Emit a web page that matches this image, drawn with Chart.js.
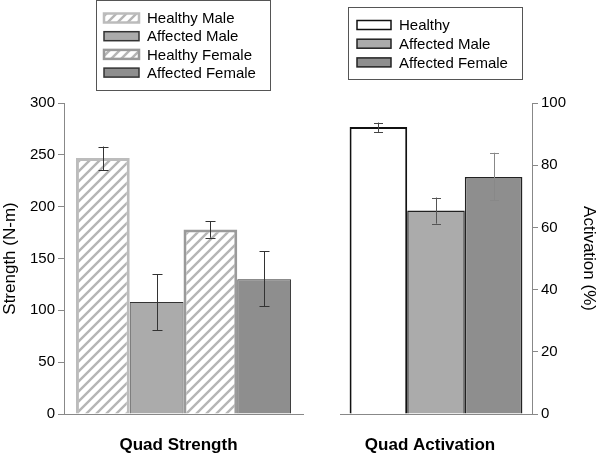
<!DOCTYPE html>
<html><head><meta charset="utf-8">
<script src="https://cdn.jsdelivr.net/npm/chart.js@4"></script>
<style>
body{margin:0;background:#fff;width:600px;height:453px;overflow:hidden;position:relative}
#c1{position:absolute;left:0;top:0}
#c2{position:absolute;left:320px;top:0}
</style>
</head><body>
<canvas id="c1" width="320" height="453"></canvas>
<canvas id="c2" width="280" height="453"></canvas>
<script>
// ---- data ----
const strengthCategory = ['Quad Strength'];
const strengthSeries = ['Healthy Male', 'Affected Male', 'Healthy Female', 'Affected Female'];
const strengthValues = [247, 108, 178, 130];
const strengthErrLow = [235, 81, 170, 104];
const strengthErrHigh = [258, 135, 186, 157];
const strengthTicks = [0, 50, 100, 150, 200, 250, 300];

const activationCategory = ['Quad Activation'];
const activationSeries = ['Healthy', 'Affected Male', 'Affected Female'];
const activationValues = [92.3, 65.4, 76.2];
const activationErrLow = [90.7, 61.2, 68.7];
const activationErrHigh = [93.7, 69.6, 84.0];
const activationTicks = [0, 20, 40, 60, 80, 100];

// ---- styles ----
const FONT = 'Liberation Sans, Arial, sans-serif';
function hatch(color) {
  const s = 10, c = document.createElement('canvas');
  c.width = s; c.height = s;
  const g = c.getContext('2d');
  g.fillStyle = '#fff'; g.fillRect(0, 0, s, s);
  g.strokeStyle = color; g.lineWidth = 2.4;
  g.beginPath();
  g.moveTo(-2, s + 2); g.lineTo(s + 2, -2);
  g.moveTo(-2, 2); g.lineTo(2, -2);
  g.moveTo(s - 2, s + 2); g.lineTo(s + 2, s - 2);
  g.stroke();
  return g.createPattern(c, 'repeat');
}
const hatchPat = hatch('#b5b5b5');
const strengthStyles = [
  {bg: hatchPat, border: '#bcbcbc', bw: 3, err: '#333'},
  {bg: '#ababab', border: '#333', bw: 1, err: '#333'},
  {bg: hatchPat, border: '#9a9a9a', bw: 3, err: '#333'},
  {bg: '#8e8e8e', border: '#333', bw: 1, err: '#333'}
];
const activationStyles = [
  {bg: '#ffffff', border: '#111', bw: 2, err: '#444'},
  {bg: '#ababab', border: '#222', bw: 1.5, err: '#555'},
  {bg: '#8e8e8e', border: '#222', bw: 1.5, err: '#888'}
];

// ---- plugins ----
const errorBars = {
  id: 'errorBars',
  afterDatasetsDraw(chart, args, opts) {
    const ctx = chart.ctx, y = chart.scales.y;
    chart.data.datasets.forEach((ds, i) => {
      const bar = chart.getDatasetMeta(i).data[0];
      const lo = y.getPixelForValue(ds.errLow), hi = y.getPixelForValue(ds.errHigh);
      const x = Math.round(bar.x) + 0.5, c = opts.cap;
      ctx.save();
      ctx.strokeStyle = ds.errColor; ctx.lineWidth = 1;
      ctx.beginPath();
      ctx.moveTo(x, lo); ctx.lineTo(x, hi);
      ctx.moveTo(x - c, Math.round(lo) + 0.5); ctx.lineTo(x + c, Math.round(lo) + 0.5);
      ctx.moveTo(x - c, Math.round(hi) + 0.5); ctx.lineTo(x + c, Math.round(hi) + 0.5);
      ctx.stroke();
      ctx.restore();
    });
  }
};
const boxLegend = {
  id: 'boxLegend',
  afterDraw(chart, args, o) {
    const ctx = chart.ctx;
    ctx.save();
    ctx.strokeStyle = '#555'; ctx.lineWidth = 1;
    ctx.strokeRect(o.x + 0.5, o.y + 0.5, o.w, o.h);
    ctx.font = '15px ' + FONT; ctx.fillStyle = '#000'; ctx.textBaseline = 'middle';
    chart.data.datasets.forEach((ds, i) => {
      const cy = o.rowY + i * o.rowH;
      ctx.fillStyle = ds.backgroundColor;
      ctx.fillRect(o.sx, cy - 4.5, o.sw, 9);
      ctx.strokeStyle = ds.borderColor; ctx.lineWidth = ds.borderWidth > 2 ? 2.5 : 1.5;
      ctx.strokeRect(o.sx, cy - 4.5, o.sw, 9);
      ctx.fillStyle = '#000';
      ctx.fillText(ds.label, o.tx, cy + 1);
    });
    ctx.restore();
  }
};

function makeDatasets(series, values, lo, hi, styles) {
  return series.map((name, i) => ({
    label: name, data: [values[i]], errLow: lo[i], errHigh: hi[i],
    backgroundColor: styles[i].bg, borderColor: styles[i].border,
    borderWidth: styles[i].bw, errColor: styles[i].err,
    categoryPercentage: 0.9, barPercentage: 1
  }));
}

function axisCommon(ticksArr) {
  return {
    min: ticksArr[0], max: ticksArr[ticksArr.length - 1],
    afterBuildTicks: s => { s.ticks = ticksArr.map(v => ({value: v})); },
    grid: {display: true, drawOnChartArea: false, drawTicks: true, tickLength: 6, color: '#888'},
    border: {display: true, color: '#888', width: 1},
    ticks: {color: '#000', font: {family: FONT, size: 15}, padding: 3}
  };
}

// ---- left chart ----
const yL = axisCommon(strengthTicks);
yL.position = 'left';
yL.title = {display: true, text: 'Strength (N-m)', color: '#000', font: {family: FONT, size: 17}, padding: 0};
yL.afterFit = s => { s.width = 64; };
new Chart(document.getElementById('c1'), {
  type: 'bar',
  data: {labels: strengthCategory, datasets: makeDatasets(strengthSeries, strengthValues, strengthErrLow, strengthErrHigh, strengthStyles)},
  options: {
    responsive: false, animation: false,
    layout: {padding: {left: 0, right: 17, top: 103, bottom: 0}},
    plugins: {legend: {display: false}, tooltip: {enabled: false},
      errorBars: {cap: 5},
      boxLegend: {x: 96, y: 0, w: 174, h: 90, rowY: 18, rowH: 18.2, sx: 104, sw: 35, tx: 147}},
    scales: {
      x: {grid: {display: false}, border: {display: true, color: '#888'},
          ticks: {color: '#000', font: {family: FONT, size: 17, weight: 'bold'}, padding: 13, labelOffset: -5},
          afterFit: s => { s.height = 39; }},
      y: yL
    }
  },
  plugins: [errorBars, boxLegend]
});

// ---- right chart ----
const yR = axisCommon(activationTicks);
yR.position = 'right';
yR.title = {display: true, text: 'Activation (%)', color: '#000', font: {family: FONT, size: 17}, padding: 1};
yR.afterFit = s => { s.width = 68; };
new Chart(document.getElementById('c2'), {
  type: 'bar',
  data: {labels: activationCategory, datasets: makeDatasets(activationSeries, activationValues, activationErrLow, activationErrHigh, activationStyles)},
  options: {
    responsive: false, animation: false,
    layout: {padding: {left: 20, right: 0, top: 103, bottom: 0}},
    plugins: {legend: {display: false}, tooltip: {enabled: false},
      errorBars: {cap: 4.5},
      boxLegend: {x: 28, y: 7, w: 174, h: 72, rowY: 25, rowH: 18.7, sx: 37, sw: 34, tx: 79}},
    scales: {
      x: {grid: {display: false}, border: {display: true, color: '#888'},
          ticks: {color: '#000', font: {family: FONT, size: 17, weight: 'bold'}, padding: 13, labelOffset: -6},
          afterFit: s => { s.height = 39; }},
      y: yR
    }
  },
  plugins: [errorBars, boxLegend]
});
</script>
</body></html>
